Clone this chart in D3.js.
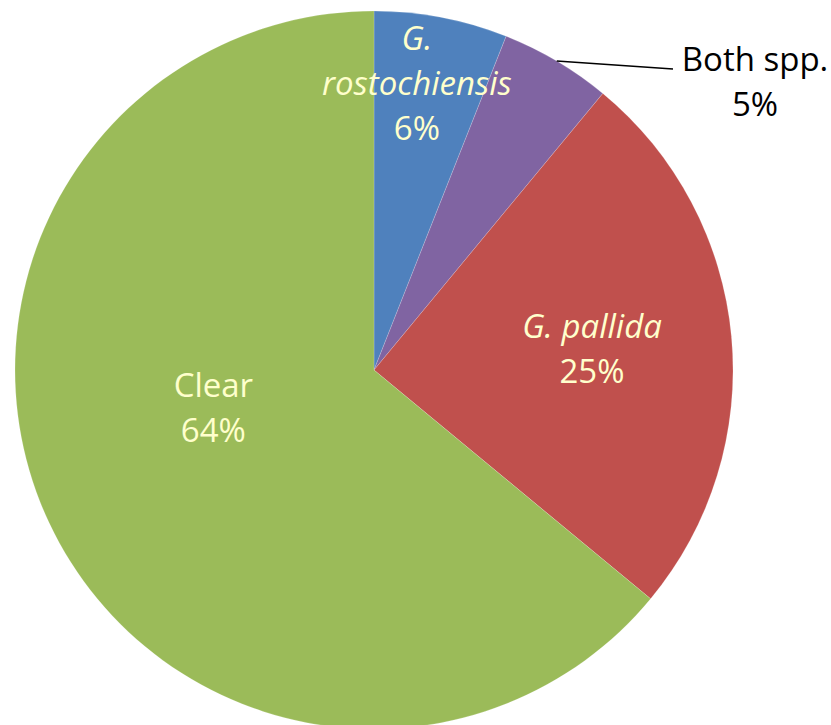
<!DOCTYPE html>
<html>
<head>
<meta charset="utf-8">
<script src="https://cdn.jsdelivr.net/npm/d3@7.9.0/dist/d3.min.js"></script>
<style>
  body { margin: 0; background: #fff; }
  svg text { font-family: "Open Sans", Lato, sans-serif; }
</style>
</head>
<body>
<svg id="chart" width="831" height="725"></svg>
<script>
// slice data, clockwise from 12 o'clock
const categories = ['G. rostochiensis', 'Both spp.', 'G. pallida', 'Clear'];
const values = [6, 5, 25, 64];
const labelLines = [['G.', 'rostochiensis'], ['Both spp.'], ['G. pallida'], ['Clear']];
const italicLabels = [true, false, true, false];
const colorList = ['#4F81BD', '#8064A2', '#C0504D', '#9BBB59'];

const cx = 374, cy = 370, radius = 359;
const svg = d3.select('#chart');
const g = svg.append('g').attr('transform', `translate(${cx},${cy})`);

const colors = d3.scaleOrdinal().domain(categories).range(colorList);

let data = categories.map((c, i) => ({ label: c, value: values[i] }));
let pie = d3.pie().sort(null).value((d) => d.value);
let arcData = pie(data);
let arcGenerator = d3.arc().innerRadius(0).outerRadius(radius);

g.selectAll('path')
  .data(arcData)
  .join('path')
  .attr('d', arcGenerator)
  .attr('fill', (d) => colors(d.data.label))
  .attr('stroke', 'rgba(255,255,255,0.25)')
  .attr('stroke-width', 0.7);

// label placement: polar [angle offset in degrees, radius] relative to slice middle
const labelPlace = [[-2.3, 290], null, [0, 219], [12, 165]];
const lineH = 45;

function polar(angle, r) {
  return [Math.sin(angle) * r, -Math.cos(angle) * r];
}

arcData.forEach((d, i) => {
  const mid = (d.startAngle + d.endAngle) / 2;
  const lines = labelLines[i].concat([d.data.value + '%']);
  let x, y, fill;
  if (labelPlace[i]) {
    [x, y] = polar(mid + labelPlace[i][0] * Math.PI / 180, labelPlace[i][1]);
    fill = '#FFFFCC';
  } else {
    // outside label with leader line
    const [ex, ey] = polar(mid, radius);
    const lx = 299, ly = -301;
    g.append('line')
      .attr('x1', ex).attr('y1', ey)
      .attr('x2', lx).attr('y2', ly)
      .attr('stroke', '#000').attr('stroke-width', 1.3);
    x = 381; y = -288;
    fill = '#000';
  }
  const t = g.append('text')
    .attr('text-anchor', 'middle')
    .attr('fill', fill)
    .attr('font-size', 33);
  const y0 = y - (lines.length - 1) * lineH / 2;
  lines.forEach((ln, k) => {
    t.append('tspan')
      .attr('x', x)
      .attr('y', y0 + k * lineH)
      .attr('dy', '0.35em')
      .attr('font-style', italicLabels[i] && k < lines.length - 1 ? 'italic' : 'normal')
      .text(ln);
  });
});
</script>
</body>
</html>
